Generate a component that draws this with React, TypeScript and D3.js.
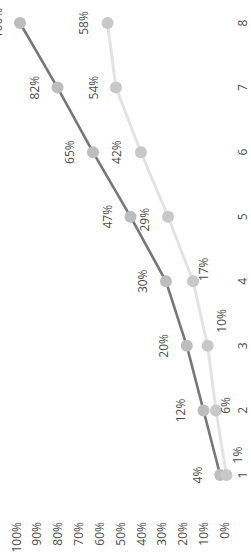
import React from "react";
import * as d3 from "d3";

const categories = [1, 2, 3, 4, 5, 6, 7, 8];
const darkSeries = [4, 12, 20, 30, 47, 65, 82, 100];
const lightSeries = [1, 6, 10, 17, 29, 42, 54, 58];
const valueTicks = [0, 10, 20, 30, 40, 50, 60, 70, 80, 90, 100];

// label placement nudges (layout only)
const lightLabelNudge: [number, number][] = [
  [11, -20],
  [10, -5],
  [14, -25],
  [10, -12],
  [-24, 3],
  [-24, 0],
  [-22, 0],
  [-24, 0],
];

const W = 251;
const H = 555;
const FONT = "'Open Sans', 'Liberation Sans', sans-serif";

export default function App() {
  const cat = d3.scaleLinear().domain([1, 8]).range([475, 23]);
  const val = d3.scaleLinear().domain([0, 100]).range([228.5, 20]);

  const line = d3
    .line<number>()
    .x((d) => val(d))
    .y((_, i) => cat(categories[i]));

  const rot = (x: number, y: number) => `translate(${x},${y}) rotate(-90)`;

  return (
    <svg
      width={W}
      height={H}
      style={{ position: "absolute", left: 0, top: 0, background: "#fff" }}
      fontFamily={FONT}
    >
      <rect width={W} height={H} fill="#fff" />
      {/* value axis labels */}
      {valueTicks.map((t) => (
        <text
          key={"t" + t}
          transform={rot(val(t) - 4, 522)}
          textAnchor="end"
          dominantBaseline="central"
          fontSize={12}
          fill="#4a4a4a"
        >
          {t + "%"}
        </text>
      ))}
      {/* category labels */}
      {categories.map((c) => (
        <text
          key={"c" + c}
          transform={rot(242.5, cat(c))}
          textAnchor="middle"
          dominantBaseline="central"
          fontSize={12}
          fill="#4a4a4a"
        >
          {c}
        </text>
      ))}
      {/* dark series */}
      <path d={line(darkSeries) || ""} fill="none" stroke="#777" strokeWidth={2.6} />
      {darkSeries.map((v, i) => (
        <circle key={"dp" + i} cx={val(v)} cy={cat(categories[i])} r={6} fill="#bdbdbd" />
      ))}
      {/* light series */}
      <path d={line(lightSeries) || ""} fill="none" stroke="#e3e3e3" strokeWidth={3} />
      {lightSeries.map((v, i) => (
        <circle key={"lp" + i} cx={val(v)} cy={cat(categories[i])} r={6} fill="#c8c8c8" />
      ))}
      {/* data labels */}
      {darkSeries.map((v, i) => (
        <text
          key={"dl" + i}
          transform={rot(val(v) - 23, cat(categories[i]))}
          textAnchor="middle"
          dominantBaseline="central"
          fontSize={12}
          fill="#4a4a4a"
        >
          {v + "%"}
        </text>
      ))}
      {lightSeries.map((v, i) => (
        <text
          key={"ll" + i}
          transform={rot(val(v) + lightLabelNudge[i][0], cat(categories[i]) + lightLabelNudge[i][1])}
          textAnchor="middle"
          dominantBaseline="central"
          fontSize={12}
          fill="#4a4a4a"
        >
          {v + "%"}
        </text>
      ))}
    </svg>
  );
}
